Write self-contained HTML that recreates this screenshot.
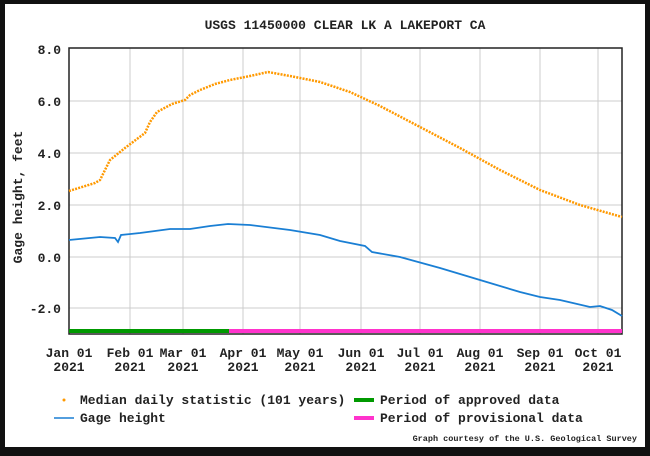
<!DOCTYPE html><html><head><style>body{margin:0;background:#111}svg{display:block}text{font-family:"Liberation Mono",monospace;font-weight:bold;fill:#222}</style></head><body>
<svg width="650" height="456" viewBox="0 0 650 456">
<rect x="0" y="0" width="650" height="456" fill="#111"/>
<rect x="5" y="4" width="640" height="443" fill="#fff"/>
<text x="345" y="29" font-size="13" text-anchor="middle">USGS 11450000 CLEAR LK A LAKEPORT CA</text>
<g stroke="#ccc" stroke-width="1">
<line x1="69" x2="622" y1="101" y2="101"/><line x1="69" x2="622" y1="153" y2="153"/><line x1="69" x2="622" y1="205" y2="205"/><line x1="69" x2="622" y1="257" y2="257"/><line x1="69" x2="622" y1="308" y2="308"/>
<line x1="130" x2="130" y1="48" y2="334"/><line x1="183" x2="183" y1="48" y2="334"/><line x1="243" x2="243" y1="48" y2="334"/><line x1="300" x2="300" y1="48" y2="334"/><line x1="361" x2="361" y1="48" y2="334"/><line x1="420" x2="420" y1="48" y2="334"/><line x1="480" x2="480" y1="48" y2="334"/><line x1="540" x2="540" y1="48" y2="334"/><line x1="598" x2="598" y1="48" y2="334"/>
</g>
<rect x="69" y="48" width="553" height="286" fill="none" stroke="#222" stroke-width="1.5"/>
<polyline fill="none" stroke="#f90" stroke-width="2.5" stroke-dasharray="2 1.2" points="69,191 95,183 100,180 110,160 125,148 145,133 150,122 157,112 172,104 185,100 190,95 200,90 215,84 230,80 250,76 268,72 290,76 320,82 350,92 380,106 420,127 460,148 500,170 540,190 580,205 622,217"/>
<polyline fill="none" stroke="#1a7fd4" stroke-width="1.8" points="69,240 100,237 115,238 118,242 121,235 140,233 170,229 190,229 210,226 228,224 250,225 290,230 320,235 340,241 365,246 372,252 400,257 440,268 480,280 520,292 540,297 560,300 590,307 600,306 612,310 622,316"/>
<line x1="69" x2="229" y1="331" y2="331" stroke="#090" stroke-width="4"/>
<line x1="229" x2="622" y1="331" y2="331" stroke="#f3c" stroke-width="4"/>
<g font-size="13" text-anchor="end">
<text x="61" y="54">8.0</text><text x="61" y="106">6.0</text><text x="61" y="158">4.0</text><text x="61" y="210">2.0</text><text x="61" y="262">0.0</text><text x="61" y="313">-2.0</text></g>
<text transform="translate(22,197) rotate(-90)" font-size="13" text-anchor="middle">Gage height, feet</text>
<g font-size="13" text-anchor="middle">
<text x="69" y="357">Jan 01</text><text x="69" y="371">2021</text>
<text x="130" y="357">Feb 01</text><text x="130" y="371">2021</text>
<text x="183" y="357">Mar 01</text><text x="183" y="371">2021</text>
<text x="243" y="357">Apr 01</text><text x="243" y="371">2021</text>
<text x="300" y="357">May 01</text><text x="300" y="371">2021</text>
<text x="361" y="357">Jun 01</text><text x="361" y="371">2021</text>
<text x="420" y="357">Jul 01</text><text x="420" y="371">2021</text>
<text x="480" y="357">Aug 01</text><text x="480" y="371">2021</text>
<text x="540" y="357">Sep 01</text><text x="540" y="371">2021</text>
<text x="598" y="357">Oct 01</text><text x="598" y="371">2021</text></g>
<circle cx="64" cy="400" r="1.5" fill="#f90"/>
<line x1="54" x2="74" y1="418" y2="418" stroke="#1a7fd4" stroke-width="1.5"/>
<line x1="354" x2="374" y1="400" y2="400" stroke="#090" stroke-width="4"/>
<line x1="354" x2="374" y1="418" y2="418" stroke="#f3c" stroke-width="4"/>
<g font-size="13"><text x="80" y="404">Median daily statistic (101 years)</text><text x="80" y="422">Gage height</text>
<text x="380" y="404">Period of approved data</text><text x="380" y="422">Period of provisional data</text></g>
<text x="637" y="441" font-size="8.5" text-anchor="end" font-weight="normal">Graph courtesy of the U.S. Geological Survey</text>
</svg></body></html>
